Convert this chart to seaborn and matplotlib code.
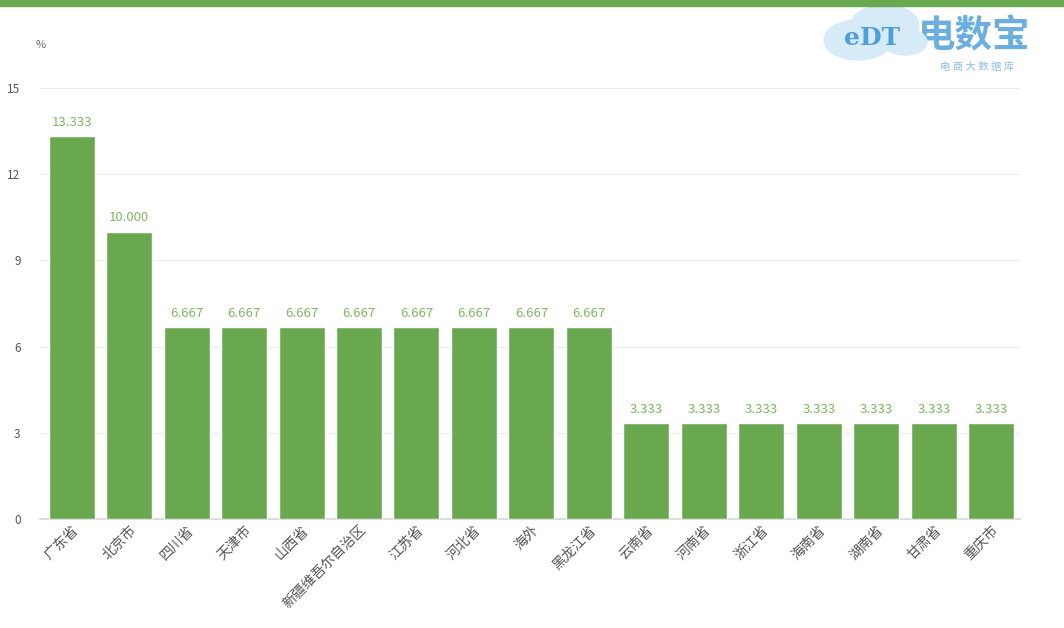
import matplotlib
matplotlib.use("Agg")
import matplotlib.pyplot as plt
from matplotlib.patches import Circle, Rectangle
import seaborn as sns
import pandas as pd

regions = ["广东省", "北京市", "四川省", "天津市", "山西省", "新疆维吾尔自治区", "江苏省",
           "河北省", "海外", "黑龙江省", "云南省", "河南省", "浙江省", "海南省", "湖南省",
           "甘肃省", "重庆市"]
shares = [13.333, 10.000, 6.667, 6.667, 6.667, 6.667, 6.667, 6.667, 6.667, 6.667,
          3.333, 3.333, 3.333, 3.333, 3.333, 3.333, 3.333]
y_ticks = [0, 3, 6, 9, 12, 15]

sns.set_theme(style="white")
plt.rcParams["font.family"] = ["Noto Sans CJK SC", "DejaVu Sans"]

GREEN = "#69a84f"
df = pd.DataFrame({"region": regions, "share": shares})

W, H = 1064, 628
fig = plt.figure(figsize=(W / 100, H / 100), dpi=100)
ax = fig.add_axes([40 / W, 1 - 519 / H, 980 / W, (519 - 88) / H])

sns.barplot(data=df, x="region", y="share", color=GREEN, saturation=1,
            width=0.8, ax=ax, zorder=3)

for i, v in enumerate(shares):
    ax.text(i, v + 0.25, f"{v:,.3f}", ha="center", va="bottom",
            fontsize=9.5, color="#7cb860")

ax.set_ylim(0, 15)
ax.set_xlim(-0.55, 16.5)
ax.set_yticks(y_ticks)
ax.set_yticklabels([str(t) for t in y_ticks], fontsize=8.5, color="#555555")
ax.yaxis.grid(True, color="#ececec", linewidth=0.8, zorder=0)
ax.set_xlabel("")
ax.set_ylabel("")
for s in ["top", "right", "left"]:
    ax.spines[s].set_visible(False)
ax.spines["bottom"].set_color("#d8d8d8")
ax.tick_params(axis="y", length=0, pad=14)
ax.tick_params(axis="x", length=0, pad=3)
ax.set_xticks(range(len(regions)))
ax.set_xticklabels(regions, rotation=45, ha="right", rotation_mode="anchor",
                   fontsize=10, color="#555555")

# unit marker above the axis
fig.text(36 / W, 1 - 45 / H, "%", fontsize=8, color="#666666", va="center")

# top banner strip
fig.patches.append(Rectangle((0, 1 - 6 / H), 1, 6 / H, transform=fig.transFigure,
                             color=GREEN, zorder=5))

# brand mark, top right: cloud with initials, then the name
for cx, cy, r in [(858, 40, 20), (885, 25, 20), (905, 42, 13)]:
    fig.patches.append(Circle((cx / W, 1 - cy / H), r / H, transform=fig.transFigure,
                              color="#d6eaf8", zorder=4))
fig.text(872 / W, 1 - 38 / H, "eDT", fontsize=18, color="#3f97d4",
         fontweight="bold", family="DejaVu Serif", va="center", ha="center",
         alpha=0.9, zorder=6)
fig.text(918 / W, 1 - 36 / H, "电数宝", fontsize=27, color="#5aa6dc",
         fontweight="bold", va="center", ha="left", alpha=0.9)
fig.text(940 / W, 1 - 67 / H, "电 商 大 数 据 库", fontsize=7.5, color="#8cc0e4",
         va="center", ha="left")

fig.savefig("out.png", dpi=100, facecolor="white")
